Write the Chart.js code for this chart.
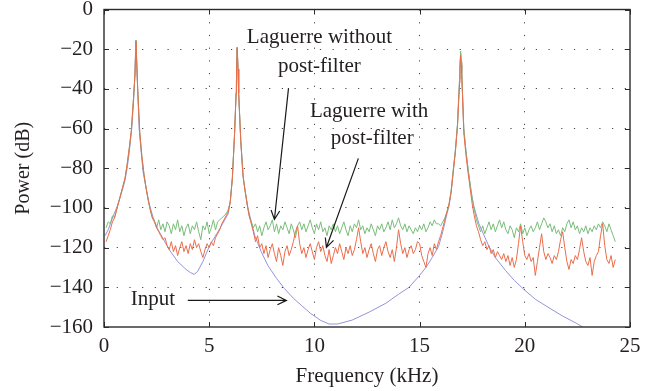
<!DOCTYPE html>
<html>
<head>
<meta charset="utf-8">
<script src="https://cdn.jsdelivr.net/npm/chart.js@4"></script>
<style>
  html, body { margin: 0; padding: 0; background: #fff; }
  #wrap { width: 654px; height: 391px; }
</style>
</head>
<body>
<div id="wrap"><canvas id="spectrum" width="654" height="391"></canvas></div>
<script>
// axis ticks
const freqTicks = [0, 5, 10, 15, 20, 25];      // kHz
const powerTicks = [0, -20, -40, -60, -80, -100, -120, -140, -160]; // dB

// Input spectrum (smooth curve)
const inputFreq = [0.05, 0.2, 0.44, 0.6, 0.76, 0.9, 1.0, 1.1, 1.2, 1.31, 1.4, 1.47, 1.52, 1.56, 1.6, 1.67, 1.75, 1.86, 2.0, 2.15,
  2.34, 2.55, 2.81, 3.1, 3.5, 3.9, 4.1, 4.28, 4.45, 4.7, 5.02, 5.5, 5.9, 6.0, 6.1, 6.2, 6.28, 6.33, 6.37, 6.4,
  6.5, 6.63, 6.84, 7.16, 7.47, 7.79, 8.2, 8.58, 9.0, 9.37, 9.8, 10.3, 10.7, 11.1, 11.8, 12.6, 13.4, 14.0, 14.5, 15.0,
  15.3, 15.6, 15.9, 16.1, 16.3, 16.4, 16.5, 16.6, 16.7, 16.8, 16.9, 16.95, 16.98, 17.0, 17.1, 17.2, 17.3, 17.4, 17.5, 17.6,
  17.82, 18.3, 18.6, 19.08, 19.5, 20.0, 20.5, 21.1, 21.8, 22.5, 22.75, 23.0];
const inputPower = [-114, -111, -104, -100, -95, -90, -86, -80, -72, -61, -47, -33, -15.5, -28, -40, -60, -70, -82, -90, -98,
  -105, -110.5, -115.5, -121, -127, -131, -132.5, -133.5, -132, -127, -119, -110.5, -103, -97, -85, -64, -42, -19, -30, -42,
  -66, -86, -100, -113.8, -122, -129, -135.5, -140.7, -145.5, -149, -153, -156.7, -158.5, -158.5, -156.5, -152.5, -148, -143.5, -140, -134,
  -130, -125, -119.5, -112, -103, -99, -92, -81, -71, -58, -35, -22, -27, -31, -60, -71, -80, -88, -95, -100,
  -108, -119.5, -125, -131.5, -136.5, -141.5, -146, -150, -154.5, -158.4, -160, -161.5];

// Laguerre outputs, read on a 0.1 kHz grid from 0.1 to 24.3 kHz (one row per kHz)
const gridStart = 0.1, gridStep = 0.1;
const noPostPower = [
  -110, -107, -108, -104, -105, -101, -97, -93, -89, -85,
  -78, -70, -61, -45, -22, -40, -62, -74, -83, -90,
  -96, -101, -105, -107, -110, -106, -111, -108, -112, -107,
  -109, -113, -108, -111, -106, -112, -109, -114, -110, -108,
  -113, -109, -111, -107, -112, -116, -109, -111, -107, -113,
  -110, -106, -111, -107, -106, -105, -104, -103, -101, -97,
  -85, -64, -30, -42, -66, -83, -91, -98, -104, -107,
  -110, -108, -112, -109, -114, -110, -107, -111, -109, -106,
  -112, -108, -113, -109, -111, -107, -110, -113, -108, -111,
  -115, -109, -107, -111, -108, -112, -109, -106, -110, -113,
  -108, -111, -107, -112, -110, -114, -109, -111, -108, -112,
  -109, -113, -110, -107, -111, -114, -109, -112, -108, -110,
  -106, -111, -109, -113, -110, -112, -108, -111, -114, -109,
  -111, -108, -112, -110, -107, -111, -106, -110, -108, -105,
  -109, -111, -108, -112, -109, -111, -113, -110, -112, -109,
  -111, -108, -112, -110, -107, -109, -106, -108, -108, -109,
  -107, -105, -102, -98, -91, -81, -71, -58, -35, -30,
  -60, -71, -80, -88, -95, -101, -106, -109, -112, -109,
  -113, -110, -107, -111, -108, -112, -109, -106, -110, -107,
  -111, -113, -109, -111, -115, -110, -112, -108, -113, -110,
  -114, -111, -109, -112, -110, -107, -111, -108, -105, -107,
  -110, -108, -112, -109, -113, -111, -114, -110, -112, -108,
  -106, -110, -107, -111, -109, -113, -110, -112, -109, -113,
  -110, -112, -109, -111, -108, -110, -107, -109, -112, -108,
  -111, -114, -117
];
const postPower = [
  -117, -114, -111, -107, -105, -101, -97, -93, -89, -85,
  -78, -70, -61, -45, -22, -40, -62, -74, -83, -90,
  -96, -101, -105, -107, -110, -112, -114, -116, -115, -119,
  -121, -117, -122, -119, -124, -120, -117, -122, -119, -123,
  -118, -121, -116, -120, -118, -122, -125, -121, -118, -120,
  -117, -119, -115, -113, -111, -108, -106, -104, -102, -97,
  -85, -64, -30, -42, -66, -83, -91, -98, -104, -108,
  -112, -117, -114, -120, -118, -123, -119, -125, -121, -118,
  -123, -127, -120, -124, -129, -122, -119, -124, -121, -117,
  -112, -109, -118, -123, -120, -125, -121, -118, -122, -126,
  -120, -117, -122, -119, -124, -127, -121, -128, -124, -120,
  -123, -118, -122, -126, -120, -123, -119, -124, -121, -116,
  -110, -117, -123, -120, -125, -121, -118, -123, -127, -121,
  -119, -124, -120, -117, -122, -125, -121, -127, -120, -111,
  -118, -123, -120, -125, -121, -119, -123, -121, -117, -118,
  -124, -127, -130, -123, -120, -124, -118, -121, -117, -114,
  -110, -106, -102, -98, -92, -82, -72, -59, -37, -32,
  -62, -73, -82, -90, -98, -104, -109, -112, -116, -119,
  -117, -121, -119, -123, -121, -125, -122, -124, -126, -123,
  -127, -124, -129, -125, -130, -126, -118, -109, -117, -124,
  -126, -123, -127, -125, -134, -127, -120, -113, -122, -126,
  -123, -125, -128, -124, -126, -122, -116, -112, -120, -127,
  -131, -126, -128, -124, -126, -121, -115, -122, -127, -129,
  -125, -134, -127, -124, -122, -114, -108, -119, -126, -128,
  -124, -130, -126
];

// extra points at the three narrow peaks
const peakFreq = [1.47, 1.52, 1.56, 6.28, 6.33, 6.37, 16.92, 16.95, 16.98];
const noPostPeak = [-33, -15.5, -28, -42, -19, -30, -28, -21, -26];
const postPeak = [-33, -16, -28, -42, -19.5, -30, -30, -23, -28];

// text labels and arrows, in data units (kHz, dB)
const labels = [
  { text: 'Laguerre without', x: 10.24, y: -14 },
  { text: 'post-filter', x: 10.24, y: -28.5 },
  { text: 'Laguerre with', x: 12.6, y: -51.5 },
  { text: 'post-filter', x: 12.75, y: -64.8 },
  { text: 'Input', x: 2.32, y: -146.1 }
];
const arrows = [
  { from: [8.77, -39.6], to: [8.1, -105.8] },
  { from: [12.09, -75.0], to: [10.57, -119.9] },
  { from: [3.98, -146.6], to: [8.67, -146.6] }
];

const textColor = '#231f20';
const fontFamily = '"Liberation Serif", "Times New Roman", serif';

function toPoints(xs, ys) {
  return xs.map((x, i) => ({ x: x, y: ys[i] }));
}

function gridSeries(values, peaks) {
  const pts = values.map((v, i) => ({ x: +(gridStart + gridStep * i).toFixed(2), y: v }));
  peakFreq.forEach((f, i) => pts.push({ x: f, y: peaks[i] }));
  pts.sort((a, b) => a.x - b.x);
  return pts;
}

function minus(v) {
  return v < 0 ? '\u2212' + Math.abs(v) : String(v);
}

// frame, inward ticks, labels and arrows
const decorations = {
  id: 'decorations',
  afterDraw(chart) {
    const ctx = chart.ctx;
    const a = chart.chartArea;
    const xs = chart.scales.x, ys = chart.scales.y;
    ctx.save();
    ctx.strokeStyle = '#2b2b2b';
    ctx.lineWidth = 1;
    freqTicks.forEach(t => {
      const px = Math.round(xs.getPixelForValue(t)) + 0.5;
      ctx.beginPath();
      ctx.moveTo(px, a.bottom); ctx.lineTo(px, a.bottom - 5);
      ctx.moveTo(px, a.top); ctx.lineTo(px, a.top + 5);
      ctx.stroke();
    });
    powerTicks.forEach(t => {
      const py = Math.round(ys.getPixelForValue(t)) + 0.5;
      ctx.beginPath();
      ctx.moveTo(a.left, py); ctx.lineTo(a.left + 5, py);
      ctx.moveTo(a.right, py); ctx.lineTo(a.right - 5, py);
      ctx.stroke();
    });
    ctx.lineWidth = 1.4;
    ctx.strokeRect(a.left, a.top, a.right - a.left, a.bottom - a.top);

    ctx.fillStyle = textColor;
    ctx.font = '21px ' + fontFamily;
    ctx.textAlign = 'center';
    ctx.textBaseline = 'middle';
    labels.forEach(l => {
      ctx.fillText(l.text, xs.getPixelForValue(l.x), ys.getPixelForValue(l.y));
    });

    ctx.strokeStyle = '#1a1a1a';
    ctx.lineWidth = 1.2;
    arrows.forEach(ar => {
      const x0 = xs.getPixelForValue(ar.from[0]), y0 = ys.getPixelForValue(ar.from[1]);
      const x1 = xs.getPixelForValue(ar.to[0]), y1 = ys.getPixelForValue(ar.to[1]);
      const ang = Math.atan2(y1 - y0, x1 - x0);
      const head = 10, spread = 0.45;
      ctx.beginPath();
      ctx.moveTo(x0, y0); ctx.lineTo(x1, y1);
      ctx.moveTo(x1 - head * Math.cos(ang - spread), y1 - head * Math.sin(ang - spread));
      ctx.lineTo(x1, y1);
      ctx.lineTo(x1 - head * Math.cos(ang + spread), y1 - head * Math.sin(ang + spread));
      ctx.stroke();
    });
    ctx.restore();
  }
};

function gridColor(edges) {
  return (c) => (c.tick && edges.includes(c.tick.value)) ? 'rgba(0,0,0,0)' : '#444';
}

const ctx = document.getElementById('spectrum').getContext('2d');
const chart = new Chart(ctx, {
  type: 'line',
  data: {
    datasets: [
      {
        label: 'Laguerre with post-filter',
        data: gridSeries(postPower, postPeak),
        borderColor: '#ea6d4b',
        borderWidth: 1,
        pointRadius: 0,
        tension: 0
      },
      {
        label: 'Laguerre without post-filter',
        data: gridSeries(noPostPower, noPostPeak),
        borderColor: '#78bd78',
        borderWidth: 1,
        pointRadius: 0,
        tension: 0
      },
      {
        label: 'Input',
        data: toPoints(inputFreq, inputPower),
        borderColor: '#9494d8',
        borderWidth: 1,
        pointRadius: 0,
        tension: 0
      }
    ]
  },
  options: {
    responsive: false,
    animation: false,
    devicePixelRatio: 1,
    layout: { padding: { left: 0, right: 24, top: 9.5, bottom: 0 } },
    plugins: {
      legend: { display: false },
      tooltip: { enabled: false }
    },
    scales: {
      x: {
        type: 'linear',
        min: 0,
        max: 25,
        afterFit(scale) {
          scale.height = 64;
          scale.paddingLeft = 0;
          scale.paddingRight = 0;
        },
        afterBuildTicks(scale) { scale.ticks = freqTicks.map(v => ({ value: v })); },
        grid: { color: gridColor([0, 25]), lineWidth: 1, drawTicks: false },
        border: { display: false, dash: [1.2, 11.5] },
        ticks: {
          padding: 7,
          color: textColor,
          font: { family: fontFamily, size: 21 },
          maxRotation: 0,
          callback: (v) => minus(v)
        },
        title: {
          display: true,
          text: 'Frequency (kHz)',
          color: textColor,
          font: { family: fontFamily, size: 21 },
          padding: { top: 0, bottom: 2 }
        }
      },
      y: {
        type: 'linear',
        min: -160,
        max: 0,
        afterFit(scale) {
          scale.width = 104;
          scale.paddingTop = 0;
          scale.paddingBottom = 0;
        },
        afterBuildTicks(scale) { scale.ticks = powerTicks.map(v => ({ value: v })); },
        grid: { color: gridColor([0, -160]), lineWidth: 1, drawTicks: false },
        border: { display: false, dash: [1.2, 11.5] },
        ticks: {
          padding: 11,
          color: textColor,
          font: { family: fontFamily, size: 21 },
          callback: (v) => minus(v)
        },
        title: {
          display: true,
          text: 'Power (dB)',
          color: textColor,
          font: { family: fontFamily, size: 20 },
          padding: { top: 12, bottom: 0 }
        }
      }
    }
  },
  plugins: [decorations]
});
</script>
</body>
</html>
